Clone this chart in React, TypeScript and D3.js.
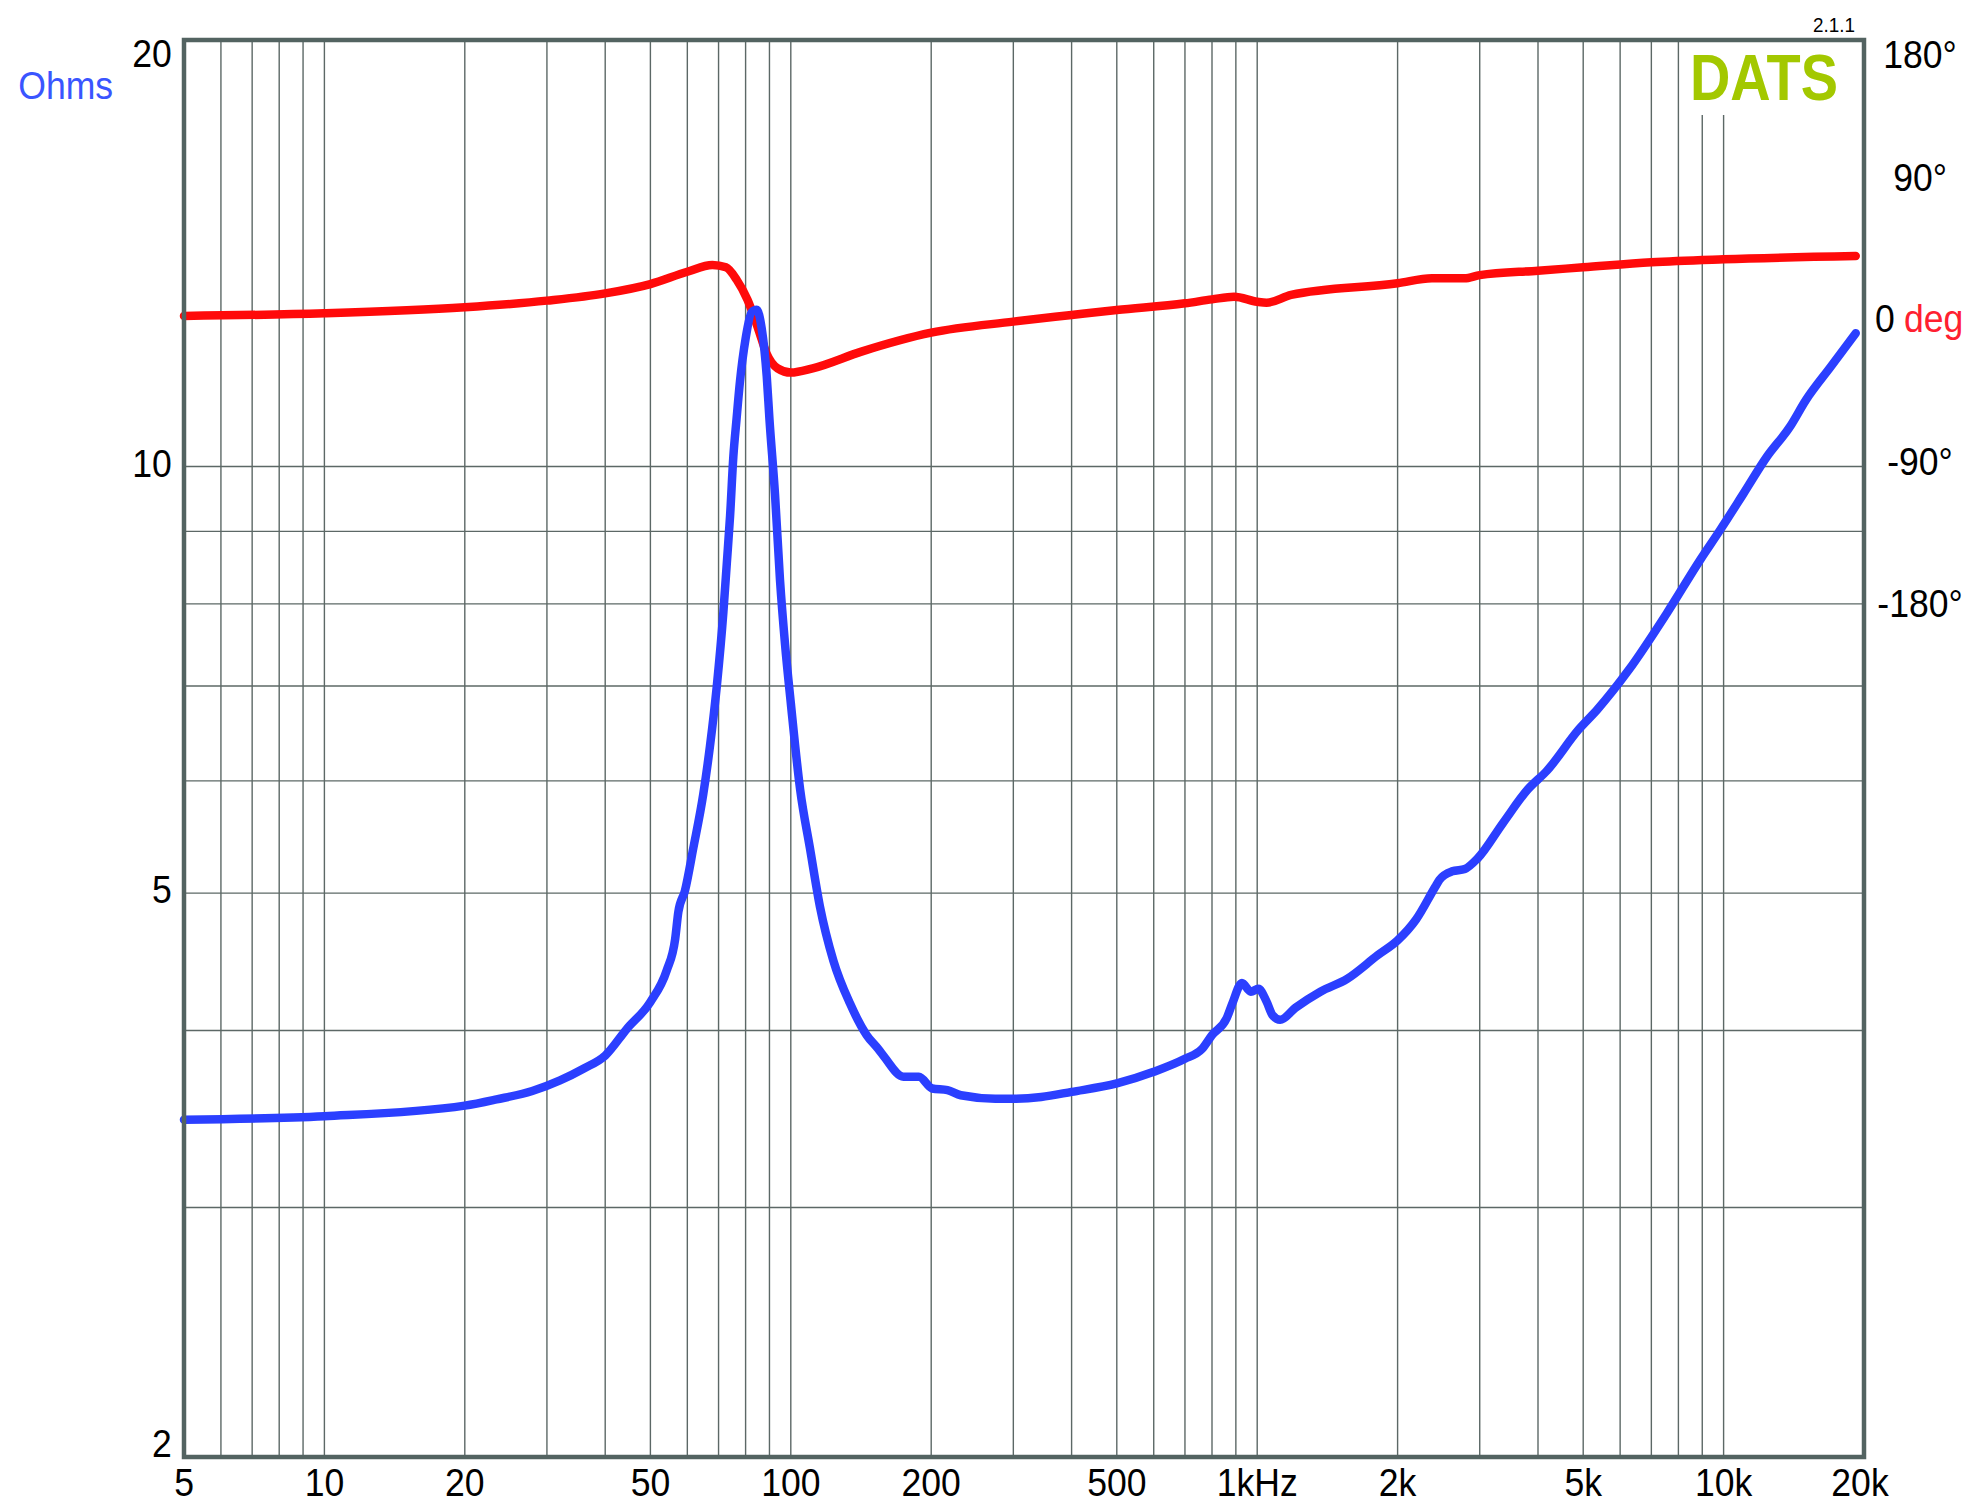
import React from "react";
import * as d3 from "d3";

const W = 1980;
const H = 1511;

// Impedance magnitude (Ohms) vs frequency (Hz)
const zFreq = [5, 10, 20, 23.4, 27.9, 32.0, 36, 40, 44.5, 50, 54.2, 56.5, 57.4, 59.3, 61.8, 64.9, 67.1, 69.4, 71.7, 72.9, 74.1, 75.3, 76.5, 77.8, 80, 82.4, 84.5, 86.6, 88.8, 90, 92.5, 94.8, 97.2, 100, 104.7, 109.9, 115.5, 123.4, 133.9, 145.4, 154.1, 158.8, 174.4, 188.2, 201, 216.7, 231.5, 274.4, 300, 344.2, 400, 500, 600, 700, 760.7, 800, 860, 884.7, 927.5, 969, 1006, 1048, 1079, 1120, 1208, 1366, 1559, 1813, 2000, 2191, 2407, 2460, 2618, 2787, 2968, 3360, 3807, 4180, 4884, 5365, 6270, 7557, 8903, 9830, 11030, 12380, 13880, 15010, 17000, 19200];
const zOhm = [3.46, 3.48, 3.54, 3.576, 3.625, 3.688, 3.76, 3.84, 4.01, 4.19, 4.41, 4.64, 4.85, 5.02, 5.38, 5.87, 6.35, 7.0, 7.9, 8.54, 9.23, 10.16, 10.8, 11.48, 12.31, 12.85, 12.9, 12.52, 11.58, 10.8, 9.56, 8.32, 7.49, 6.81, 5.92, 5.38, 4.89, 4.48, 4.18, 3.97, 3.88, 3.83, 3.71, 3.71, 3.64, 3.63, 3.6, 3.58, 3.58, 3.59, 3.62, 3.67, 3.74, 3.82, 3.88, 3.97, 4.08, 4.18, 4.32, 4.26, 4.28, 4.19, 4.1, 4.07, 4.15, 4.26, 4.35, 4.52, 4.63, 4.79, 5.05, 5.11, 5.18, 5.2, 5.29, 5.6, 5.92, 6.1, 6.52, 6.74, 7.19, 7.88, 8.59, 9.02, 9.57, 10.16, 10.67, 11.14, 11.77, 12.42];

// Impedance phase (degrees) vs frequency (Hz)
const pFreq = [5, 10, 20, 30, 40, 50, 60, 67.9, 72.6, 76.6, 80.8, 85.3, 88.7, 93.7, 100, 111.4, 141.7, 200, 300, 400, 500, 700, 800, 892, 1000, 1047.5, 1182, 2000, 2369, 2782, 3000, 4000, 5000, 7000, 10000, 19200];
const pDeg = [1.3, 3.0, 6.8, 11.0, 15.6, 21.5, 29.3, 33.6, 32.1, 24.1, 11.4, -7.6, -22.4, -31.9, -34.6, -31.9, -21.3, -9.3, -2.3, 1.9, 5.1, 9.3, 11.8, 13.5, 10.3, 9.7, 14.6, 22.0, 25.2, 25.2, 27.2, 30.0, 32.1, 35.3, 37.2, 39.3];

// Grid and tick values
const xGridFreqs = [6, 7, 8, 9, 10, 20, 30, 40, 50, 60, 70, 80, 90, 100, 200, 300, 400, 500, 600, 700, 800, 900, 1000, 2000, 3000, 4000, 5000, 6000, 7000, 8000, 9000, 10000];
const yGridOhms = [3, 4, 5, 6, 7, 8, 9, 10];
const xTickVals = [5, 10, 20, 50, 100, 200, 500, 1000, 2000, 5000, 10000, 20000];
const xTickLabels = ["5", "10", "20", "50", "100", "200", "500", "1kHz", "2k", "5k", "10k", "20k"];
const yTickVals = [20, 10, 5, 2];
const yTickLabels = ["20", "10", "5", "2"];
const phaseTickVals = [180, 90, 0, -90, -180];
const phaseTickLabels = ["180°", "90°", "0", "-90°", "-180°"];

const L = 184, R = 1864, T = 40, B = 1457;

const GRID = "#5c6866";
const FRAME = "#536361";
const BLUE = "#2b3fff";
const RED = "#ff0a0a";

const x = d3.scaleLog().domain([5, 20000]).range([L, R]);
const y = d3.scaleLog().domain([2, 20]).range([B, T]);
const yp = d3.scaleLinear().domain([-180, 180]).range([602, 34]);

const Txt = ({ x: tx, y: ty, anchor = "start", size = 39.5, fill = "#000", sx = 0.9, weight = "normal", children }: any) => (
  <text
    transform={`translate(${tx},${ty}) scale(${sx},1)`}
    textAnchor={anchor}
    fontSize={size}
    fill={fill}
    fontWeight={weight}
    fontFamily="'Liberation Sans', Arial, sans-serif"
  >
    {children}
  </text>
);

export default function App() {
  const zData = zFreq.map((f, i) => [f, zOhm[i]] as [number, number]);
  const pData = pFreq.map((f, i) => [f, pDeg[i]] as [number, number]);
  const zLine = d3.line<[number, number]>().x(d => x(d[0])).y(d => y(d[1])).curve(d3.curveMonotoneX);
  const pLine = d3.line<[number, number]>().x(d => x(d[0])).y(d => yp(d[1])).curve(d3.curveMonotoneX);

  const yLabelBase = (v: number) => (v === 20 ? T + 27 : v === 2 ? B : y(v) + 10);
  const phaseBase = [68.3, 190.7, 331.7, 475, 616.7];

  return (
    <svg width={W} height={H} style={{ position: "absolute", left: 0, top: 0, display: "block", background: "#fff" }}>
      <rect x={0} y={0} width={W} height={H} fill="#fff" />
      {xGridFreqs.map(f => (
        <line key={"vx" + f} x1={x(f)} x2={x(f)} y1={T} y2={B} stroke={GRID} strokeWidth={1.4} />
      ))}
      {yGridOhms.map(v => (
        <line key={"hy" + v} x1={L} x2={R} y1={y(v)} y2={y(v)} stroke={GRID} strokeWidth={1.4} />
      ))}
      <rect x={1688} y={T} width={R - 1688} height={75} fill="#fff" />
      <Txt x={1838} y={100} anchor="end" size={65} sx={0.86} weight="bold" fill="#a3c800">DATS</Txt>
      <Txt x={1855} y={31.7} anchor="end" size={21} sx={0.9}>2.1.1</Txt>

      <path d={pLine(pData) || ""} fill="none" stroke={RED} strokeWidth={8.5} strokeLinecap="round" strokeLinejoin="round" />
      <path d={zLine(zData) || ""} fill="none" stroke={BLUE} strokeWidth={8.5} strokeLinecap="round" strokeLinejoin="round" />

      <rect x={L} y={T} width={R - L} height={B - T} fill="none" stroke={FRAME} strokeWidth={4.5} />

      {xTickVals.map((f, i) => (
        <Txt key={"xt" + f} x={x(f) + (f === 20000 ? -4 : 0)} y={1495.7} anchor="middle">{xTickLabels[i]}</Txt>
      ))}
      {yTickVals.map((v, i) => (
        <Txt key={"yt" + v} x={171.7} y={yLabelBase(v)} anchor="end">{yTickLabels[i]}</Txt>
      ))}
      <Txt x={18.3} y={98.5} fill="#3a55ff">Ohms</Txt>
      {phaseTickVals.map((p, i) =>
        p === 0 ? (
          <g key="p0">
            <Txt x={1875} y={phaseBase[i]}>{phaseTickLabels[i]}</Txt>
            <Txt x={1904} y={phaseBase[i]} fill="#ff2030">deg</Txt>
          </g>
        ) : (
          <Txt key={"pt" + p} x={1920} y={phaseBase[i]} anchor="middle">{phaseTickLabels[i]}</Txt>
        )
      )}
    </svg>
  );
}
